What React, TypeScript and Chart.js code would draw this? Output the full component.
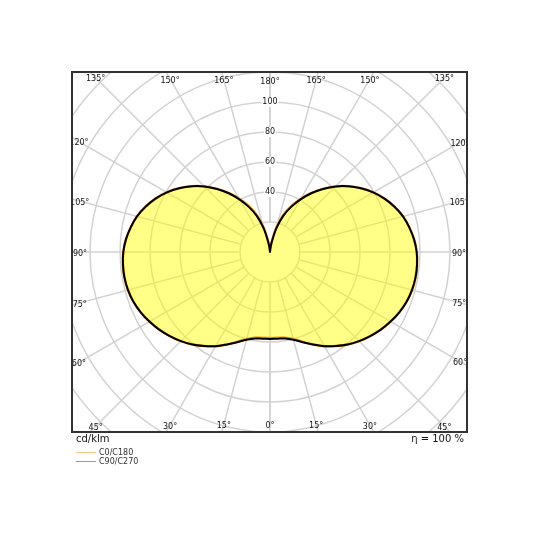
import { useEffect, useRef } from "react";
import { Chart, registerables } from "chart.js";

Chart.register(...registerables);

// --- data (cd/klm per gamma angle, 0° = straight down) ---
const gammaDeg = [
  0, 5, 10, 15, 20, 25, 30, 35, 40, 45, 50, 55, 60, 65, 70, 75, 80, 85, 90,
  95, 100, 105, 110, 115, 120, 125, 130, 135, 140, 145, 150, 155, 160, 165, 170, 175, 180,
];
const c0c180 = [
  57.4, 57.4, 58, 60, 63.7, 68, 72.5, 76.5, 80.5, 84, 87.2, 90.2, 92.8, 95.1, 96.9, 98, 98.5, 98.4, 97.8,
  96.4, 94.3, 91.8, 88.3, 84.2, 79.4, 74, 68.1, 61.8, 54.9, 47.8, 41, 34, 26.8, 17.8, 7.6, 2.2, 0,
];
const c90c270 = [
  58, 58, 58.5, 60.5, 64, 68, 72.5, 76.5, 80.5, 84, 87.2, 90.2, 92.8, 95.1, 96.9, 98, 98.5, 98.4, 97.8,
  96.4, 94.3, 91.8, 88.3, 84.2, 79.4, 74, 68.1, 61.8, 54.9, 47.8, 40.3, 33, 25.5, 16.5, 7, 2, 0,
];
const ringValues = [20, 40, 60, 80, 100, 120, 140, 160, 180, 200];
const ringLabels = [40, 60, 80, 100];
const spokeDeg = [0, 15, 30, 45, 60, 75, 90, 105, 120, 135, 150, 165, 180];
const seriesNames = ["C0/C180", "C90/C270"];
const unitLabel = "cd/klm";
const efficiencyLabel = "η = 100 %";

const FONT = "'DejaVu Sans', Verdana, sans-serif";

// polar (gamma, value) -> closed loop, right half then left half
function toLoop(values: number[]) {
  const pts: { x: number; y: number }[] = [];
  gammaDeg.forEach((g, i) => {
    const a = (g * Math.PI) / 180;
    pts.push({ x: values[i] * Math.sin(a), y: -values[i] * Math.cos(a) });
  });
  for (let i = gammaDeg.length - 2; i >= 0; i--) {
    const a = (gammaDeg[i] * Math.PI) / 180;
    pts.push({ x: -values[i] * Math.sin(a), y: -values[i] * Math.cos(a) });
  }
  return pts;
}

const polarPlugin = {
  id: "polarPlugin",
  beforeDatasetsDraw(chart: any) {
    const { ctx, chartArea: a, scales } = chart;
    const cx = scales.x.getPixelForValue(0);
    const cy = scales.y.getPixelForValue(0);
    const k = scales.x.getPixelForValue(1) - cx;
    ctx.save();
    ctx.beginPath();
    ctx.rect(a.left, a.top, a.right - a.left, a.bottom - a.top);
    ctx.clip();
    ctx.strokeStyle = "#d2d2d2";
    ctx.lineWidth = 1.5;
    ringValues.forEach((v) => {
      ctx.beginPath();
      ctx.arc(cx, cy, v * k, 0, Math.PI * 2);
      ctx.stroke();
    });
    const r0 = ringValues[0] * k;
    spokeDeg.forEach((g) => {
      const t = (g * Math.PI) / 180;
      [-1, 1].forEach((side) => {
        const dx = side * Math.sin(t);
        const dy = Math.cos(t);
        ctx.beginPath();
        ctx.moveTo(cx + dx * r0, cy + dy * r0);
        ctx.lineTo(cx + dx * 600, cy + dy * 600);
        ctx.stroke();
      });
    });
    // area fill following the C90/C270 line (same curve the library draws)
    const meta = chart.getDatasetMeta(0);
    const line = meta.dataset;
    ctx.beginPath();
    if (line && typeof line.path === "function") {
      if (typeof line.updateControlPoints === "function") line.updateControlPoints(chart.chartArea, "x");
      line.path(ctx);
    } else {
      meta.data.forEach((p: any, i: number) => (i ? ctx.lineTo(p.x, p.y) : ctx.moveTo(p.x, p.y)));
    }
    ctx.closePath();
    ctx.fillStyle = "rgba(255, 255, 0, 0.47)";
    ctx.fill();
    ctx.restore();
  },
  afterDatasetsDraw(chart: any) {
    const { ctx, chartArea: a, scales } = chart;
    const cx = scales.x.getPixelForValue(0);
    const cy = scales.y.getPixelForValue(0);
    const k = scales.x.getPixelForValue(1) - cx;
    ctx.save();
    ctx.beginPath();
    ctx.rect(a.left, a.top, a.right - a.left, a.bottom - a.top);
    ctx.clip();
    ctx.font = `8px ${FONT}`;
    ctx.textAlign = "center";
    ctx.textBaseline = "middle";
    // radial tick labels
    ringLabels.forEach((v) => {
      const y = cy - v * k;
      const w = ctx.measureText(String(v)).width;
      ctx.fillStyle = "#fff";
      ctx.fillRect(cx - w / 2 - 1, y - 5, w + 2, 10);
      ctx.fillStyle = "#111";
      ctx.fillText(String(v), cx, y);
    });
    // angle labels on the frame
    spokeDeg.forEach((g) => {
      const t = (g * Math.PI) / 180;
      const sides = g === 0 || g === 180 ? [1] : [-1, 1];
      sides.forEach((side) => {
        const dx = side * Math.sin(t);
        const dy = Math.cos(t);
        let s = Infinity;
        if (dx > 1e-6) s = Math.min(s, (a.right - cx) / dx);
        if (dx < -1e-6) s = Math.min(s, (a.left - cx) / dx);
        if (dy > 1e-6) s = Math.min(s, (a.bottom - cy) / dy);
        if (dy < -1e-6) s = Math.min(s, (a.top - cy) / dy);
        const px = cx + dx * (s - 8);
        const py = cy + dy * (s - 8) + 1.5;
        ctx.fillStyle = "#111";
        ctx.fillText(`${g}°`, px, py);
      });
    });
    ctx.restore();
    ctx.save();
    ctx.strokeStyle = "#333";
    ctx.lineWidth = 2;
    ctx.strokeRect(a.left, a.top, a.right - a.left, a.bottom - a.top);
    ctx.restore();
  },
};

export default function App() {
  const canvasRef = useRef<HTMLCanvasElement | null>(null);

  useEffect(() => {
    if (!canvasRef.current) return;
    const chart = new Chart(canvasRef.current, {
      type: "scatter",
      data: {
        datasets: [
          {
            label: seriesNames[1],
            data: toLoop(c90c270),
            showLine: true,
            borderColor: "#000",
            borderWidth: 2,
            pointRadius: 0,
            tension: 0.35,
          },
          {
            label: seriesNames[0],
            data: toLoop(c0c180),
            showLine: true,
            borderColor: "#f0a020",
            borderWidth: 2.5,
            pointRadius: 0,
            tension: 0.35,
          },
        ],
      },
      options: {
        responsive: false,
        animation: false,
        layout: { padding: { left: 72, top: 72, right: 73, bottom: 108 } },
        scales: {
          x: { type: "linear", min: -132, max: 131.33, display: false },
          y: { type: "linear", min: -120, max: 120, display: false },
        },
        plugins: { legend: { display: false }, tooltip: { enabled: false } },
      },
      plugins: [polarPlugin],
    });
    return () => chart.destroy();
  }, []);

  return (
    <div style={{ position: "absolute", left: 0, top: 0, width: 540, height: 540, background: "#fff", fontFamily: FONT }}>
      <canvas ref={canvasRef} width={540} height={540} />
      <div style={{ position: "absolute", left: 76, top: 433, fontSize: 10, color: "#111" }}>{unitLabel}</div>
      <div style={{ position: "absolute", left: 300, width: 164, top: 433, fontSize: 10, color: "#111", textAlign: "right" }}>
        {efficiencyLabel}
      </div>
      {seriesNames.map((name, i) => (
        <div key={name} style={{ position: "absolute", left: 76, top: 448 + i * 9, display: "flex", alignItems: "center", fontSize: 8, color: "#333", lineHeight: "9px" }}>
          <span style={{ display: "inline-block", width: 20, height: 1, background: i === 0 ? "#f8c880" : "#999", marginRight: 3 }} />
          {name}
        </div>
      ))}
    </div>
  );
}
